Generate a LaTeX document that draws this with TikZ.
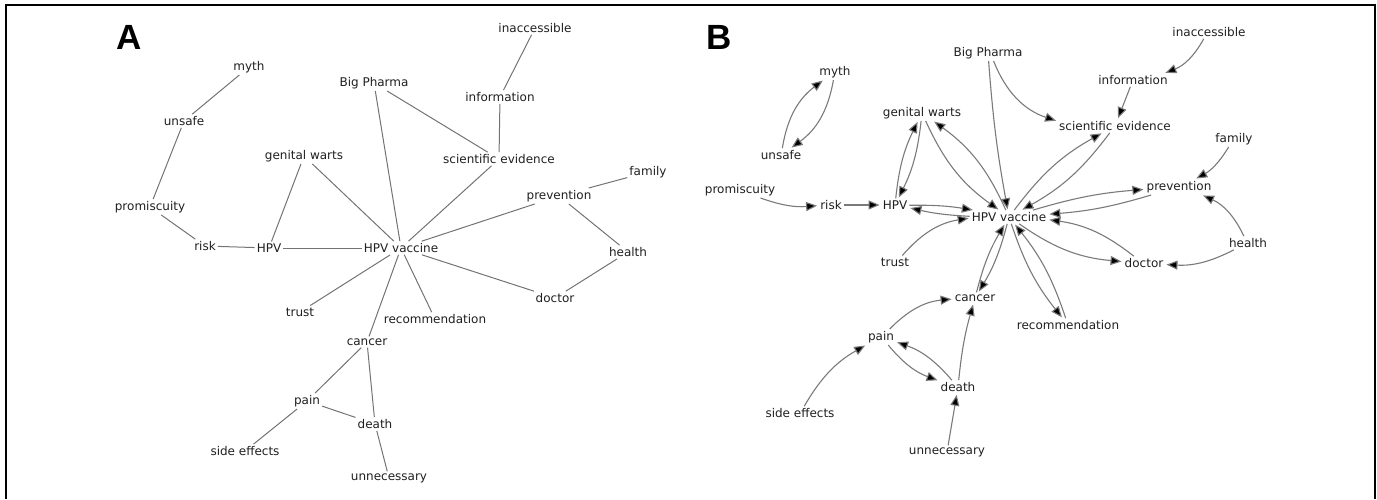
\documentclass[tikz,border=0pt]{standalone}
\usepackage{fontspec}
\setmainfont{DejaVu Sans}
\newfontfamily\panelfont{Liberation Sans}
\usetikzlibrary{arrows.meta}

\begin{document}
\begin{tikzpicture}[x=1pt,y=-1pt,
        every node/.style={font=\fontsize{12}{14}\selectfont, text=black!88, inner sep=2pt},
        panel/.style={font=\panelfont\fontsize{35}{35}\selectfont\bfseries, text=black, inner sep=0pt},
        link/.style={draw=black!55, line width=1pt},
        dirlink/.style={draw=black!52, line width=1.1pt, -{Triangle[length=11pt,width=9pt]}, shorten >=1pt}]
    \useasboundingbox (0,0) rectangle (1377,499);
    \draw[line width=2pt] (6,499) -- (6,5) -- (1375,5) -- (1375,499);

    % A
    \node[panel] (labA) at (129,37) {A};
    \node (inaccA) at (535,28) {inaccessible};
    \node (mythA) at (249,67) {myth};
    \node (pharmaA) at (374,83) {Big Pharma};
    \node (infoA) at (500,97) {information};
    \node (unsafeA) at (184,121) {unsafe};
    \node (wartsA) at (304,156) {genital warts};
    \node (sciA) at (499,159) {scientific evidence};
    \node (familyA) at (648,172) {family};
    \node (prevA) at (559,196) {prevention};
    \node (promA) at (150,207) {promiscuity};
    \node (riskA) at (205,246) {risk};
    \node (hpvA) at (269,248) {HPV};
    \node (vacA) at (401,248) {HPV vaccine};
    \node (healthA) at (628,252) {health};
    \node (doctorA) at (555,298) {doctor};
    \node (trustA) at (300,312) {trust};
    \node (recA) at (435,319) {recommendation};
    \node (cancerA) at (367,342) {cancer};
    \node (painA) at (307,401) {pain};
    \node (deathA) at (375,424) {death};
    \node (sideA) at (245,451) {side effects};
    \node (unnecA) at (389,478) {unnecessary};

    \path[link]
        (mythA) edge (unsafeA)
        (unsafeA) edge (promA)
        (promA) edge (riskA)
        (riskA) edge (hpvA)
        (hpvA) edge (vacA)
        (hpvA) edge (wartsA)
        (wartsA) edge (vacA)
        (pharmaA) edge (vacA)
        (pharmaA) edge (sciA)
        (inaccA) edge (infoA)
        (infoA) edge (sciA)
        (sciA) edge (vacA)
        (vacA) edge (prevA)
        (prevA) edge (familyA)
        (prevA) edge (healthA)
        (healthA) edge (doctorA)
        (vacA) edge (doctorA)
        (vacA) edge (trustA)
        (vacA) edge (recA)
        (vacA) edge (cancerA)
        (cancerA) edge (painA)
        (cancerA) edge (deathA)
        (painA) edge (deathA)
        (painA) edge (sideA)
        (deathA) edge (unnecA);

    % B
    \node[panel] (labB) at (719,37) {B};
    \node (inaccB) at (1209,32) {inaccessible};
    \node (pharmaB) at (988,53) {Big Pharma};
    \node (mythB) at (835,72) {myth};
    \node (infoB) at (1133,80) {information};
    \node (wartsB) at (922,113) {genital warts};
    \node (sciB) at (1115,126) {scientific evidence};
    \node (familyB) at (1234,139) {family};
    \node (unsafeB) at (781,155) {unsafe};
    \node (prevB) at (1179,187) {prevention};
    \node (promB) at (740,190) {promiscuity};
    \node (riskB) at (831,205) {risk};
    \node (hpvB) at (895,205) {HPV};
    \node (vacB) at (1009,217) {HPV vaccine};
    \node (healthB) at (1248,243) {health};
    \node (trustB) at (895,262) {trust};
    \node (doctorB) at (1144,263) {doctor};
    \node (cancerB) at (975,298) {cancer};
    \node (recB) at (1068,325) {recommendation};
    \node (painB) at (881,337) {pain};
    \node (deathB) at (958,387) {death};
    \node (sideB) at (800,413) {side effects};
    \node (unnecB) at (947,452) {unnecessary};

    \path[dirlink]
        (mythB) edge[bend left=22] (unsafeB)
        (unsafeB) edge[bend left=22] (mythB)
        (promB) edge[bend right=12] (riskB)
        (riskB) edge (hpvB)
        (hpvB) edge[bend left=5] (vacB)
        (vacB) edge[bend left=5] (hpvB)
        (wartsB) edge[bend left=10] (hpvB)
        (hpvB) edge[bend left=10] (wartsB)
        (vacB) edge[bend right=15] (wartsB)
        (wartsB) edge[bend right=15] (vacB)
        (pharmaB) edge[bend right=3] (vacB)
        (pharmaB) edge[bend right=25] (sciB)
        (inaccB) edge[bend left=20] (infoB)
        (infoB) edge (sciB)
        (sciB) edge[bend left=12] (vacB)
        (vacB) edge[bend left=12] (sciB)
        (familyB) edge[bend left=15] (prevB)
        (prevB) edge[bend left=6] (vacB)
        (vacB) edge[bend left=6] (prevB)
        (healthB) edge[bend right=20] (prevB)
        (healthB) edge[bend left=15] (doctorB)
        (vacB) edge[bend right=15] (doctorB)
        (doctorB) edge[bend right=15] (vacB)
        (trustB) edge[bend left=20] (vacB)
        (vacB) edge[bend left=8] (cancerB)
        (cancerB) edge[bend left=8] (vacB)
        (vacB) edge[bend right=10] (recB)
        (recB) edge[bend right=10] (vacB)
        (painB) edge[bend left=20] (cancerB)
        (deathB) edge[bend left=5] (cancerB)
        (painB) edge[bend right=15] (deathB)
        (deathB) edge[bend right=15] (painB)
        (sideB) edge[bend left=15] (painB)
        (unnecB) edge (deathB);
\end{tikzpicture}
\end{document}
